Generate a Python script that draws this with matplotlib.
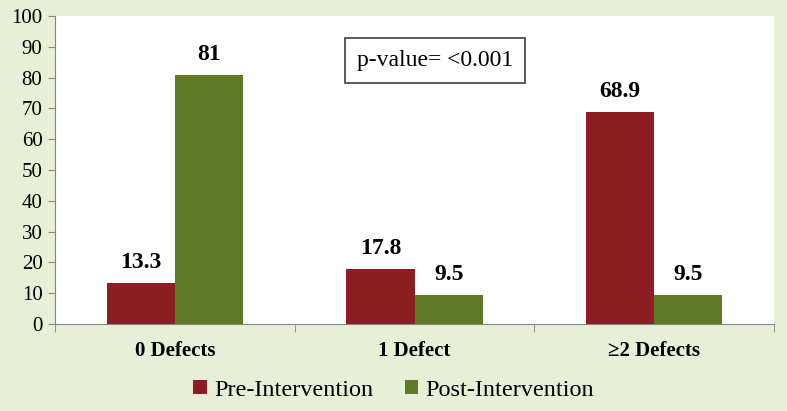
import numpy as np
import matplotlib
matplotlib.use("Agg")
import matplotlib.pyplot as plt

categories = ["0 Defects", "1 Defect", "\u22652 Defects"]
pre = [13.3, 17.8, 68.9]
post = [81, 9.5, 9.5]
pre_labels = ["13.3", "17.8", "68.9"]
post_labels = ["81", "9.5", "9.5"]

plt.rcParams['font.family'] = ['Liberation Serif', 'DejaVu Serif']

fig = plt.figure(figsize=(7.87, 4.11), dpi=100, facecolor="#E7EFD6")
ax = fig.add_axes([55 / 787, 1 - 324 / 411, 719 / 787, 308 / 411])
ax.set_facecolor("white")

x = np.arange(len(categories))
w = 0.285
red = "#8C1D22"
green = "#5E7A24"
b1 = ax.bar(x - w / 2, pre, w, color=red, label="Pre-Intervention", zorder=2)
b2 = ax.bar(x + w / 2, post, w, color=green, label="Post-Intervention", zorder=2)

for bars, labs in ((b1, pre_labels), (b2, post_labels)):
    for b, t in zip(bars, labs):
        ax.text(b.get_x() + b.get_width() / 2, b.get_height() + 3.2, t,
                ha="center", va="bottom", fontsize=17, fontweight="bold")

ax.set_xlim(-0.5, 2.5)
ax.set_ylim(0, 100)
ax.set_yticks(range(0, 101, 10))
ax.tick_params(axis="y", labelsize=15, length=5, color="#868686", pad=4)
ax.set_xticks(x)
ax.set_xticklabels(categories, fontsize=15, fontweight="bold")
ax.tick_params(axis="x", length=0, pad=12)
ax.set_xticks([-0.5, 0.5, 1.5, 2.5], minor=True)
ax.tick_params(axis="x", which="minor", length=6, color="#868686")

for s in ("top", "right"):
    ax.spines[s].set_visible(False)
for s in ("left", "bottom"):
    ax.spines[s].set_color("#868686")

ax.text(0.528, 0.855, "p-value= <0.001", transform=ax.transAxes, fontsize=17,
        ha="center", va="center",
        bbox=dict(boxstyle="square,pad=0.5", fc="white", ec="#404040", lw=1.2))

fig.legend(loc="center", bbox_to_anchor=(0.5, 1 - 390 / 411), ncol=2,
           frameon=False, fontsize=17.5, handlelength=0.55, handleheight=0.55,
           handletextpad=0.3, columnspacing=1.3)

fig.savefig("out.png", dpi=100, facecolor=fig.get_facecolor())
